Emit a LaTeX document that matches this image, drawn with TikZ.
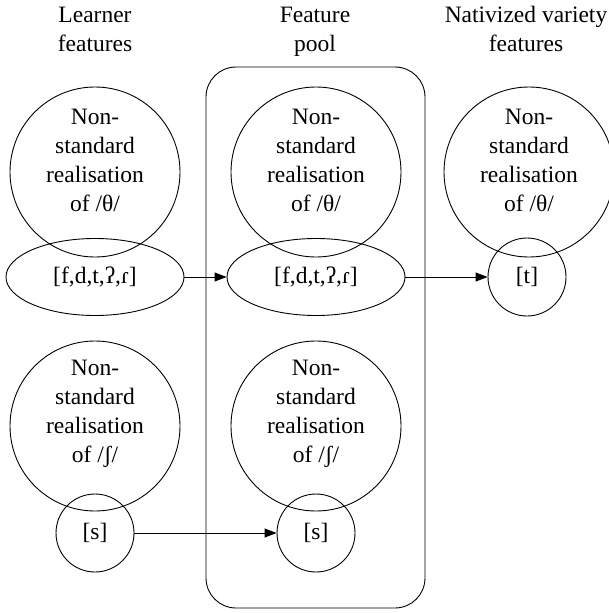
\documentclass[tikz,border=0pt]{standalone}
\usepackage{fontspec}
\setmainfont{Liberation Serif}
\usetikzlibrary{shapes.geometric,arrows.meta}

\tikzset{
  txt/.style={align=center, inner sep=0pt, font=\fontsize{23.5}{29}\selectfont},
  bigcirc/.style={draw, circle, minimum size=170pt, inner sep=0pt, line width=0.9pt},
  smallcirc/.style={draw, circle, minimum size=78pt, inner sep=0pt, line width=0.9pt, txt},
  featell/.style={draw, ellipse, minimum width=178pt, minimum height=77pt, inner sep=0pt, line width=0.9pt, txt},
  arr/.style={-{Triangle[length=12pt,width=9pt]}, line width=0.9pt}
}

\begin{document}
\begin{tikzpicture}[x=1pt,y=-1pt]
        \useasboundingbox (0,0) rectangle (609,613);

        % Column headings
        \node[txt] (hLearner) at (95,29) {Learner\\features};
        \node[txt] (hPool) at (315,31.5) {Feature\\pool};
        \node[txt] (hNative) at (526,29) {Nativized variety\\features};

        % Feature pool box
        \node[draw, rounded corners=30pt, line width=0.9pt, minimum width=219pt, minimum height=541pt] (pool) at (315.5,337.5) {};

        % Top row: /θ/
        \node[bigcirc] (thL) at (95,172) {};
        \node[txt] (thLtxt) at (95,160) {Non-\\standard\\realisation\\of /θ/};
        \node[bigcirc] (thP) at (316,172) {};
        \node[txt] (thPtxt) at (316,160) {Non-\\standard\\realisation\\of /θ/};
        \node[bigcirc] (thN) at (529,172) {};
        \node[txt] (thNtxt) at (529,160) {Non-\\standard\\realisation\\of /θ/};

        \node[featell] (vL) at (95,277) {[f,d,t,ʔ,ɾ]};
        \node[featell] (vP) at (316,277) {[f,d,t,ʔ,ɾ]};
        \node[smallcirc] (vN) at (527,277) {[t]};

        % Bottom row: /ʃ/
        \node[bigcirc] (shL) at (95,426) {};
        \node[txt] (shLtxt) at (95,414) {Non-\\standard\\realisation\\of /ʃ/};
        \node[bigcirc] (shP) at (316,426) {};
        \node[txt] (shPtxt) at (316,414) {Non-\\standard\\realisation\\of /ʃ/};

        \node[smallcirc] (sL) at (95,533) {[s]};
        \node[smallcirc] (sP) at (316,533) {[s]};

        % Arrows
        \draw[arr] (vL.east) -- (vP.west);
        \draw[arr] (vP.east) -- (vN.west);
        \draw[arr] (sL.east) -- (sP.west);

\end{tikzpicture}
\end{document}
